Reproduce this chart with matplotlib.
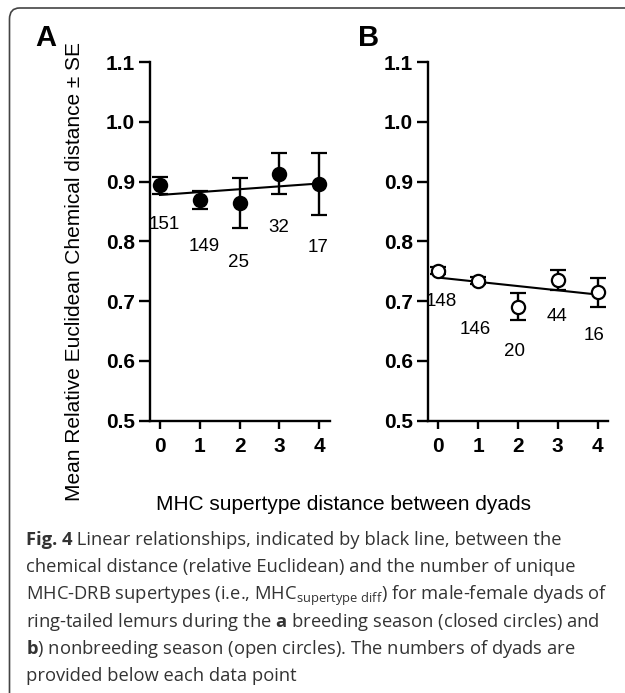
import numpy as np
import matplotlib
matplotlib.use("Agg")
import matplotlib.pyplot as plt
from matplotlib.patches import FancyBboxPatch

plt.rcParams["font.family"] = ["Liberation Sans", "DejaVu Sans"]
plt.rcParams["mathtext.fontset"] = "custom"
plt.rcParams["mathtext.rm"] = "Open Sans"
plt.rcParams["mathtext.bf"] = "Open Sans:bold"

x = [0, 1, 2, 3, 4]

# A: breeding season (closed circles)
mean_a = [0.894, 0.869, 0.864, 0.913, 0.896]
se_a = [0.014, 0.015, 0.042, 0.034, 0.052]
n_a = [151, 149, 25, 32, 17]
lab_a_x = [0.12, 1.12, 1.98, 2.98, 3.98]
lab_a_y = [0.829, 0.791, 0.764, 0.824, 0.789]

# B: nonbreeding season (open circles)
mean_b = [0.751, 0.734, 0.691, 0.735, 0.715]
se_b = [0.006, 0.006, 0.022, 0.017, 0.024]
n_b = [148, 146, 20, 44, 16]
lab_b_x = [0.07, 0.92, 1.92, 2.98, 3.92]
lab_b_y = [0.699, 0.652, 0.616, 0.674, 0.643]

yticks = [0.5, 0.6, 0.7, 0.8, 0.9, 1.0, 1.1]

W, H = 625, 693
fig = plt.figure(figsize=(W / 100, H / 100), dpi=100)

# rounded frame around figure + caption
frame = FancyBboxPatch((9.5 / W, -0.05), 1.1, 1 - 8 / H + 0.05,
                       boxstyle="round,pad=0,rounding_size=0.016",
                       transform=fig.transFigure, fill=False,
                       edgecolor="#444444", linewidth=1.2)
fig.patches.append(frame)


def panel(left, mean, se, n, lx, ly, face):
    ax = fig.add_axes([left / W, 1 - 420.7 / H, 180 / W, (420.7 - 62) / H])
    slope, icpt = np.polyfit(x, mean, 1)
    xx = np.array([x[0], x[-1]])
    ax.plot(xx, slope * xx + icpt, color="black", lw=1.5, zorder=2)
    ax.errorbar(x, mean, yerr=se, fmt="o", color="black", ms=9.5,
                mfc=face, mec="black", mew=1.6, elinewidth=1.7,
                capsize=5.5, capthick=1.7, zorder=3)
    for xi, yi, ni in zip(lx, ly, n):
        ax.text(xi, yi, str(ni), ha="center", va="center", fontsize=13.5)
    ax.set_xlim(-0.25, 4.27)
    ax.set_ylim(0.5, 1.1)
    ax.set_xticks(x)
    ax.set_yticks(yticks)
    ax.set_yticklabels([f"{t:.1f}" for t in yticks])
    for s in ["top", "right"]:
        ax.spines[s].set_visible(False)
    for s in ["left", "bottom"]:
        ax.spines[s].set_linewidth(1.7)
    ax.tick_params(axis="y", length=8, width=1.7, pad=3, labelsize=15)
    ax.tick_params(axis="x", length=6, width=1.7, pad=6, labelsize=15)
    for lab in ax.get_xticklabels() + ax.get_yticklabels():
        lab.set_fontweight("bold")
    return ax


panel(150, mean_a, se_a, n_a, lab_a_x, lab_a_y, "black")
panel(428.3, mean_b, se_b, n_b, lab_b_x, lab_b_y, "white")

fig.text(46 / W, 1 - 38 / H, "A", fontsize=21, fontweight="bold",
         ha="center", va="center")
fig.text(369 / W, 1 - 38 / H, "B", fontsize=21, fontweight="bold",
         ha="center", va="center")
fig.text(75 / W, 1 - 271 / H, "Mean Relative Euclidean Chemical distance \u00b1 SE",
         rotation=90, ha="center", va="center", fontsize=15)
fig.text(343 / W, 1 - 505 / H, "MHC supertype distance between dyads",
         ha="center", va="center", fontsize=15)

# caption
cap_kw = dict(ha="left", va="baseline", fontsize=13.2, family="Open Sans",
              color="#333333")
caption = [
    " Linear relationships, indicated by black line, between the",
    "chemical distance (relative Euclidean) and the number of unique",
    r"MHC-DRB supertypes (i.e., MHC$_\mathregular{supertype\ diff}$) for male-female dyads of",
    r"ring-tailed lemurs during the $\mathbf{a}$ breeding season (closed circles) and",
    r"$\mathbf{b}$) nonbreeding season (open circles). The numbers of dyads are",
    "provided below each data point",
]
baselines = [545, 572, 600, 627, 654, 681]

fig_lbl = fig.text(26 / W, 1 - baselines[0] / H, "Fig. 4", fontweight="bold", **cap_kw)
renderer = fig.canvas.get_renderer()
lbl_w = fig_lbl.get_window_extent(renderer).width
fig.text((26 + lbl_w) / W, 1 - baselines[0] / H, caption[0], **cap_kw)
for line, yb in zip(caption[1:], baselines[1:]):
    fig.text(26 / W, 1 - yb / H, line, **cap_kw)

fig.savefig("out.png", dpi=100)
